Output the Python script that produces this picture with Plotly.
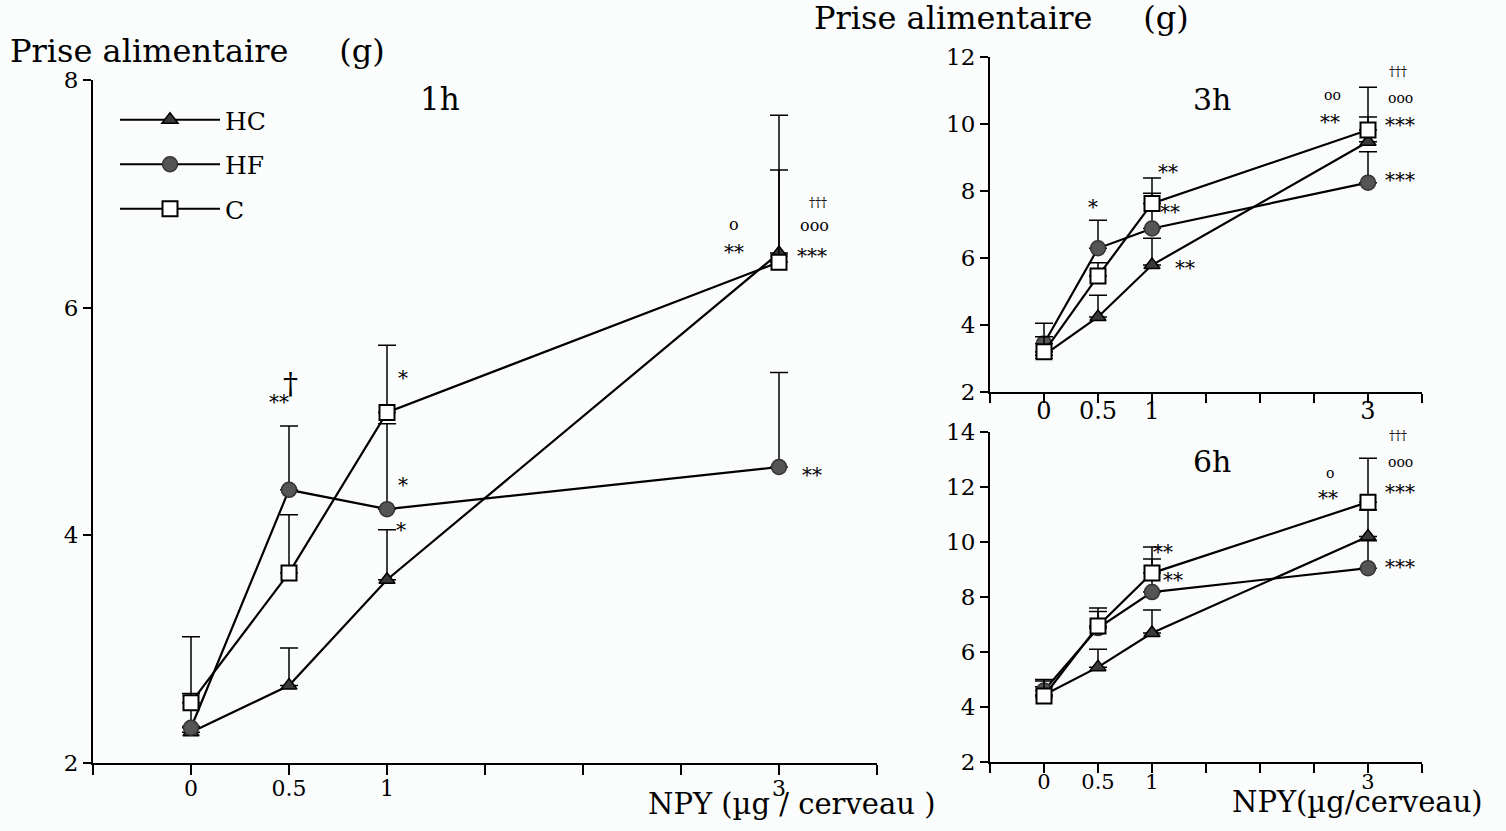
import plotly.graph_objects as go

# ---------------- data ----------------
dose = [0, 0.5, 1, 3]
tick_vals = [-0.5, 0, 0.5, 1, 1.5, 2, 2.5, 3, 3.5]
tick_text = ["", "0", "0.5", "1", "", "", "", "3", ""]

# 1h
h1_HC = [2.27, 2.68, 3.61, 6.48]
h1_HC_err = [0.05, 0.33, 0.44, 1.21]
h1_HF = [2.31, 4.40, 4.23, 4.60]
h1_HF_err = [0.30, 0.56, 0.75, 0.83]
h1_C = [2.53, 3.67, 5.08, 6.40]
h1_C_err = [0.58, 0.51, 0.59, 0.81]

# 3h
h3_HC = [3.10, 4.24, 5.79, 9.47]
h3_HC_err = [0.10, 0.65, 0.80, 0.74]
h3_HF = [3.45, 6.29, 6.88, 8.25]
h3_HF_err = [0.60, 0.84, 1.05, 0.92]
h3_C = [3.20, 5.46, 7.63, 9.82]
h3_C_err = [0.45, 0.40, 0.76, 1.28]

# 6h
h6_HC = [4.44, 5.45, 6.69, 10.20]
h6_HC_err = [0.30, 0.65, 0.84, 0.96]
h6_HF = [4.60, 6.87, 8.18, 9.05]
h6_HF_err = [0.40, 0.60, 1.20, 1.00]
h6_C = [4.40, 6.95, 8.87, 11.45]
h6_C_err = [0.55, 0.65, 0.95, 1.60]

FONT = "DejaVu Serif"
BG = "#fbfcfc"

fig = go.Figure()

series_style = {
    "HC": dict(symbol="triangle-up", size=14, color="#3a3a3a", line=dict(color="black", width=1.5)),
    "HF": dict(symbol="circle", size=15, color="#555555", line=dict(color="#333333", width=1.5)),
    "C": dict(symbol="square", size=15, color="white", line=dict(color="black", width=2)),
}

panels = [
    ("x", "y", {"HC": (h1_HC, h1_HC_err), "HF": (h1_HF, h1_HF_err), "C": (h1_C, h1_C_err)}, True),
    ("x2", "y2", {"HC": (h3_HC, h3_HC_err), "HF": (h3_HF, h3_HF_err), "C": (h3_C, h3_C_err)}, False),
    ("x3", "y3", {"HC": (h6_HC, h6_HC_err), "HF": (h6_HF, h6_HF_err), "C": (h6_C, h6_C_err)}, False),
]

for xa, ya, data, show in panels:
    for name in ["HC", "HF", "C"]:
        vals, err = data[name]
        fig.add_trace(go.Scatter(
            x=dose, y=vals, name=name, xaxis=xa, yaxis=ya, legendgroup=name,
            mode="lines+markers", showlegend=show,
            line=dict(color="black", width=2.2),
            marker=series_style[name],
            error_y=dict(type="data", symmetric=False, array=err,
                         arrayminus=[0] * len(err), color="black",
                         thickness=1.5, width=9),
        ))

W, H = 1506, 831
def px_x(p):
    return p / W
def px_y(p):
    return 1 - p / H

def axis_style(size, standoff=0):
    d = dict(showline=True, linecolor="black", linewidth=2, ticks="outside",
             tickcolor="black", tickwidth=1.5, showgrid=False, zeroline=False,
             automargin=False,
             tickfont=dict(family=FONT, size=size, color="black"))
    if standoff:
        d["ticklabelstandoff"] = standoff
    return d

fig.update_layout(
    width=W, height=H, margin=dict(l=0, r=0, t=0, b=0, pad=0, autoexpand=False),
    paper_bgcolor=BG, plot_bgcolor=BG,
    font=dict(family=FONT, color="black"),
    xaxis=dict(domain=[px_x(93), px_x(877)], range=[-0.5, 3.5], anchor="y",
               tickvals=tick_vals, ticktext=tick_text, ticklen=10, **axis_style(22, -5)),
    yaxis=dict(domain=[px_y(763), px_y(80)], range=[2, 8], anchor="x",
               tickvals=[2, 4, 6, 8], ticklen=8, **axis_style(23)),
    xaxis2=dict(domain=[px_x(990), px_x(1422)], range=[-0.5, 3.5], anchor="y2",
                tickvals=tick_vals, ticktext=tick_text, ticklen=9, **axis_style(24, -13)),
    yaxis2=dict(domain=[px_y(392), px_y(57)], range=[2, 12], anchor="x2",
                tickvals=[2, 4, 6, 8, 10, 12], ticklen=8, **axis_style(23)),
    xaxis3=dict(domain=[px_x(990), px_x(1422)], range=[-0.5, 3.5], anchor="y3",
                tickvals=tick_vals, ticktext=tick_text, ticklen=9, **axis_style(21, -9)),
    yaxis3=dict(domain=[px_y(762), px_y(432)], range=[2, 14], anchor="x3",
                tickvals=[2, 4, 6, 8, 10, 12, 14], ticklen=8, **axis_style(23)),
    legend=dict(x=px_x(115), y=px_y(97), xanchor="left", yanchor="top",
                bgcolor="rgba(0,0,0,0)", font=dict(family=FONT, size=25, color="black"),
                itemwidth=100, tracegroupgap=9),
)

NB = "\u00a0"
anns = []
# axis titles / labels in paper coords
anns.append(dict(xref="paper", yref="paper", x=px_x(8), y=px_y(51), xanchor="left", yanchor="middle",
                 text="Prise alimentaire" + NB * 5 + "(g)", font=dict(size=32)))
anns.append(dict(xref="paper", yref="paper", x=px_x(812), y=px_y(18), xanchor="left", yanchor="middle",
                 text="Prise alimentaire" + NB * 5 + "(g)", font=dict(size=32)))
anns.append(dict(xref="paper", yref="paper", x=px_x(792), y=px_y(804), xanchor="center", yanchor="middle",
                 text="NPY (µg / cerveau )", font=dict(size=29)))
anns.append(dict(xref="paper", yref="paper", x=px_x(1357), y=px_y(802), xanchor="center", yanchor="middle",
                 text="NPY(µg/cerveau)", font=dict(size=29)))

# panel labels and significance marks (data coords)
marks = [
    ("x", "y", 1.27, 7.83, "1h", 31),
    ("x", "y", 0.45, 5.17, "**", 20),
    ("x", "y", 0.51, 5.33, "†", 30),
    ("x", "y", 1.08, 5.38, "*", 20),
    ("x", "y", 1.08, 4.44, "*", 20),
    ("x", "y", 1.07, 4.05, "*", 20),
    ("x", "y", 2.77, 6.73, "o", 16),
    ("x", "y", 2.77, 6.49, "**", 20),
    ("x", "y", 3.20, 6.92, "†††", 12),
    ("x", "y", 3.18, 6.72, "ooo", 16),
    ("x", "y", 3.17, 6.45, "***", 20),
    ("x", "y", 3.17, 4.53, "**", 20),
    ("x2", "y2", 1.56, 10.72, "3h", 30),
    ("x2", "y2", 0.45, 7.52, "*", 20),
    ("x2", "y2", 1.15, 8.57, "**", 20),
    ("x2", "y2", 1.17, 7.37, "**", 20),
    ("x2", "y2", 1.31, 5.70, "**", 20),
    ("x2", "y2", 2.67, 10.87, "oo", 14),
    ("x2", "y2", 2.65, 10.06, "**", 20),
    ("x2", "y2", 3.28, 11.55, "†††", 12),
    ("x2", "y2", 3.30, 10.78, "ooo", 14),
    ("x2", "y2", 3.30, 9.97, "***", 20),
    ("x2", "y2", 3.30, 8.33, "***", 20),
    ("x3", "y3", 1.56, 12.91, "6h", 30),
    ("x3", "y3", 2.65, 12.51, "o", 14),
    ("x3", "y3", 2.63, 11.60, "**", 20),
    ("x3", "y3", 3.28, 13.85, "†††", 12),
    ("x3", "y3", 3.30, 12.91, "ooo", 14),
    ("x3", "y3", 3.30, 11.82, "***", 20),
    ("x3", "y3", 1.10, 9.64, "**", 20),
    ("x3", "y3", 1.19, 8.62, "**", 20),
    ("x3", "y3", 3.30, 9.09, "***", 20),
]
for xr, yr, x, y, t, s in marks:
    anns.append(dict(xref=xr, yref=yr, x=x, y=y, text=t, showarrow=False,
                     xanchor="center", yanchor="middle", font=dict(size=s)))
for a in anns:
    a.setdefault("showarrow", False)
    a["font"] = dict(family=FONT, color="black", **a["font"])
fig.update_layout(annotations=anns)

post = ("document.documentElement.style.margin='0';document.body.style.margin='0';"
        "document.body.style.padding='0';document.body.style.overflow='hidden';"
        "var d=document.getElementById('{plot_id}');d.style.display='block';"
        "d.parentElement.style.display='block';d.parentElement.style.height='831px';")
fig.write_html("out.html", post_script=post, config={"displayModeBar": False})
